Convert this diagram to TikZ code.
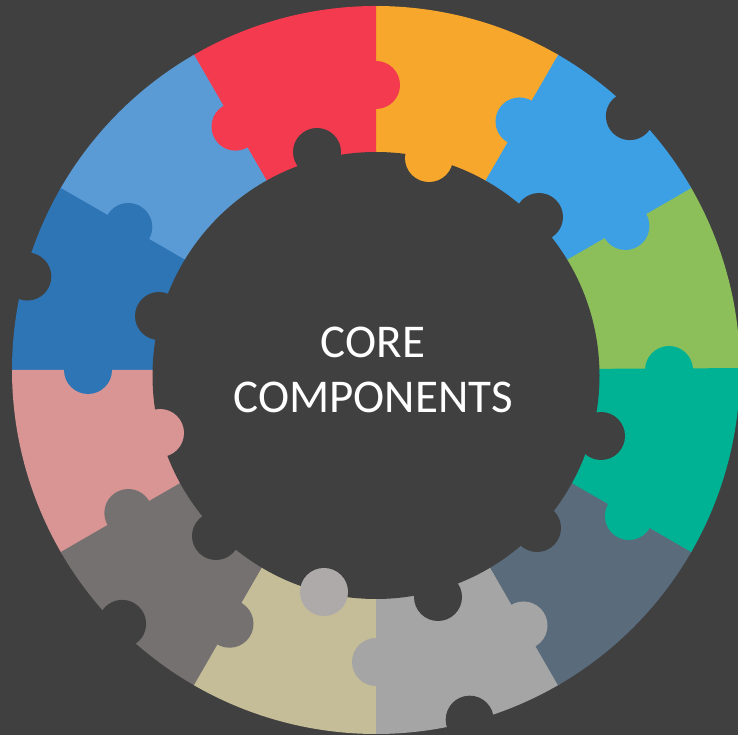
\documentclass[tikz,border=0pt]{standalone}
\usepackage{fontspec}
\setmainfont{Carlito}
\usetikzlibrary{calc}
\definecolor{bg}{HTML}{404040}
\definecolor{cgreen}{HTML}{8CBF5A}
\definecolor{cblue}{HTML}{3EA0E4}
\definecolor{corange}{HTML}{F7A72B}
\definecolor{cred}{HTML}{F43A4F}
\definecolor{clblue}{HTML}{5B9BD5}
\definecolor{cdblue}{HTML}{2E75B6}
\definecolor{cpink}{HTML}{D99594}
\definecolor{cdgray}{HTML}{767171}
\definecolor{ctan}{HTML}{C4BD97}
\definecolor{clgray}{HTML}{A5A5A5}
\definecolor{cslate}{HTML}{5A6B7C}
\definecolor{cteal}{HTML}{00B294}
\definecolor{cmgray}{HTML}{AEAAAA}
\begin{document}
\begin{tikzpicture}[x=1pt,y=1pt,
  label/.style={text=white,font=\fontsize{47}{56}\selectfont,inner sep=0pt,anchor=base}]
\fill[bg] (0,0) rectangle (738,735);
\useasboundingbox (0,0) rectangle (738,735);
\coordinate (C) at (376,365);
% ring wedges
\foreach \a/\col in {0/cgreen,30/cblue,60/corange,90/cred,120/clblue,150/cdblue,180/cpink,210/cdgray,240/ctan,270/clgray,300/cslate,330/cteal}{
  \fill[\col] (C) -- ($(C)+(\a:364)$) arc[start angle=\a, end angle=\a+30.3, radius=364] -- cycle;
}
% tabs on the boundaries between pieces
\foreach \a/\d/\col in {90/285/cred,120/281/cred,60/287/cblue,30/288/cblue,0/293/cteal,-30/292/cteal,-60/295/clgray,-90/292/clgray,-120/293/cdgray,-150/286/cdgray,180/288/cdblue,150/286/cdblue}{
  \fill[\col] ($(C)+(\a:\d)$) circle[radius=24];
}
% holes on the outer edge
\foreach \a/\d in {45/359,165/361,-135/359,-75/362}{
  \fill[bg] ($(C)+(\a:\d)$) circle[radius=24];
}
% inner circle
\fill[bg] (376,359.5) circle[radius=223.5];
% holes on the inner edge
\foreach \p in {(317,583),(539,518),(601,299),(537,207),(438,138),(216,199),(159,419)}{
  \fill[bg] \p circle[radius=24];
}
% tabs into the inner circle
\fill[corange] (429,577) circle[radius=24];
\fill[cpink] (160,302) circle[radius=24];
\fill[cmgray] (324,143) circle[radius=24];
% title
\node[label] (core) at (373,377) {CORE};
\node[label] (comp) at (373,322) {COMPONENTS};
\end{tikzpicture}
\end{document}
